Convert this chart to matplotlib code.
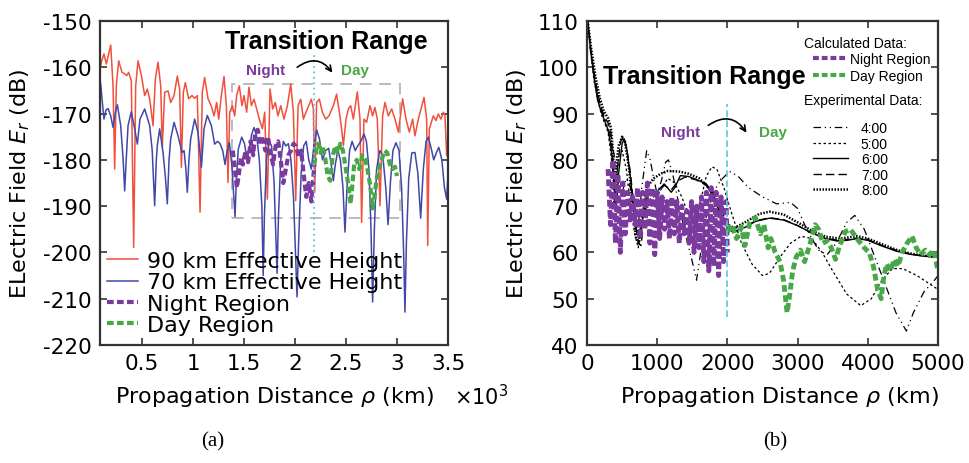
import matplotlib
matplotlib.use("Agg")
import matplotlib.pyplot as plt
from matplotlib.patches import FancyArrowPatch, Rectangle
from matplotlib.ticker import FuncFormatter
from matplotlib.lines import Line2D

plt.rcParams['font.family'] = ['DejaVu Sans']
plt.rcParams['axes.unicode_minus'] = False
plt.rcParams['mathtext.fontset'] = 'dejavusans'

# ---------------- Panel (a) data ----------------
red_km = [90, 101, 127, 150, 193, 216, 232, 248, 271, 304, 330, 350, 369, 395, 418, 438, 461, 494, 526, 552,
          575, 608, 631, 657, 683, 699, 722, 755, 781, 814, 846, 869, 886, 905, 925, 957, 990, 1016, 1042, 1069,
          1091, 1114, 1147, 1180, 1206, 1232, 1252, 1278, 1304, 1327, 1343, 1360, 1386, 1409, 1428, 1454, 1480,
          1500, 1526, 1549, 1572, 1598, 1624, 1650, 1680, 1703, 1729, 1755, 1781, 1807, 1833, 1860, 1892, 1925,
          1958, 1984, 2007, 2030, 2056, 2082, 2108, 2134, 2160, 2180, 2193, 2212, 2239, 2268, 2301, 2333, 2376,
          2408, 2435, 2457, 2474, 2500, 2523, 2546, 2572, 2611, 2637, 2653, 2676, 2702, 2735, 2761, 2784, 2807,
          2833, 2859, 2882, 2915, 2948, 2980, 3013, 3055, 3088, 3121, 3153, 3176, 3209, 3265, 3291, 3301, 3317,
          3356, 3382, 3405, 3431, 3454, 3470, 3487, 3503]
red_db = [-160.5, -158.9, -157.1, -159.3, -155.2, -164, -182, -164, -158.6, -161.1, -161.4, -161.8, -161.1, -162.9,
          -198.9, -164, -158.6, -161.8, -166.1, -164.7, -166.8, -172.6, -162.5, -158.9, -164, -177.3, -165.4,
          -165.1, -167.6, -166.1, -161.9, -164.7, -181.6, -165.4, -163.3, -166.8, -166.1, -166.7, -166.1, -191.3,
          -165.4, -162.2, -166.8, -168.4, -170.5, -167.6, -171.2, -166.1, -162.0, -168.3, -184.9, -169.7, -168.3,
          -170.5, -166.1, -164.0, -168.3, -166.1, -169.7, -164.3, -168.3, -166.9, -169.0, -171.2, -173.3, -169.7,
          -188.5, -164.7, -169.0, -167.6, -170.5, -168.3, -171.2, -168.3, -163.6, -169.7, -188.8, -168.3, -166.9,
          -171.2, -169.7, -168.3, -166.9, -169.0, -187.0, -167.6, -166.9, -169.7, -171.2, -170.5, -168.3, -165.8,
          -169.7, -173.3, -176.9, -171.2, -169.0, -168.3, -171.2, -165.3, -171.2, -193.5, -171.2, -171.9, -168.3,
          -170.5, -168.7, -171.2, -189.9, -170.5, -167.6, -170.5, -169.0, -171.2, -174.0, -166.8, -171.2, -174.0,
          -171.2, -174.8, -171.2, -166.5, -171.2, -198.5, -173.3, -170.5, -171.5, -170.1, -171.2, -169.7, -170.5,
          -179.1, -173.3]

blue_km = [90, 95, 114, 127, 147, 167, 193, 216, 239, 258, 291, 315, 330, 345, 363, 395, 428, 454, 480, 526, 575,
           600, 624, 640, 650, 673, 706, 730, 748, 765, 781, 814, 853, 892, 912, 930, 944, 960, 977, 1016, 1049,
           1082, 1108, 1140, 1180, 1212, 1240, 1265, 1291, 1314, 1335, 1356, 1380, 1400, 1412, 1425, 1444, 1477,
           1505, 1530, 1550, 1575, 1598, 1625, 1650, 1675, 1688, 1700, 1720, 1745, 1770, 1795, 1810, 1824, 1838,
           1860, 1886, 1910, 1935, 1960, 1985, 2005, 2020, 2035, 2060, 2085, 2110, 2135, 2160, 2185, 2212, 2240,
           2270, 2300, 2330, 2355, 2376, 2395, 2420, 2445, 2470, 2490, 2510, 2535, 2560, 2590, 2615, 2645, 2676,
           2700, 2725, 2745, 2761, 2778, 2800, 2830, 2860, 2890, 2912, 2935, 2960, 2990, 3020, 3045, 3065, 3078,
           3092, 3115, 3145, 3176, 3205, 3232, 3258, 3285, 3307, 3335, 3360, 3385, 3410, 3440, 3465, 3487, 3500]
blue_db = [-163, -163.6, -168.3, -171.2, -169.2, -168.9, -170.5, -173, -169.7, -168.1, -172.6, -180, -186.7, -180,
           -172.6, -169.6, -173.3, -176.6, -171.2, -169, -172.6, -178, -189.9, -180, -176.9, -173.3, -178.4, -184,
           -189.5, -180, -175.5, -171.9, -174.8, -178.4, -178, -182, -187, -180, -175.5, -171.2, -174.1, -181.6,
           -173.3, -170.4, -172.6, -176.6, -176.0, -176.5, -178, -181, -178, -176.2, -181, -188, -192.3, -184,
           -177.7, -175.1, -176.5, -180, -178, -174.5, -173, -175, -180, -190, -205, -192, -180, -176, -177, -185,
           -195, -204.5, -192, -180, -176, -177, -176.5, -180, -188, -200, -209.6, -198, -183, -177, -176, -180,
           -182, -177, -173.5, -175.5, -180, -178, -177.5, -181, -184.5, -181, -178, -180, -186, -195.6, -186,
           -178, -176, -178, -177, -176, -174.4, -176, -182, -195, -210.7, -195, -182, -178, -179, -186, -194,
           -185, -178, -176.3, -178, -186, -200, -212.9, -198, -184, -178.5, -178.4, -183, -192.6, -182, -176,
           -175.1, -177.5, -180, -178.5, -177.3, -180, -186, -188.5, -183]

nightA_km = [1390, 1410, 1430, 1450, 1470, 1490, 1515, 1540, 1565, 1590, 1610, 1635, 1660, 1685, 1710, 1735, 1760,
             1785, 1810, 1835, 1860, 1885, 1910, 1935, 1960, 1985, 2010, 2035, 2060, 2085, 2110, 2135, 2160, 2190]
nightA_db = [-178, -182, -186, -183, -179.5, -181, -178, -180.5, -176, -179, -174, -173.5, -176.5, -175.5, -178,
             -175, -178.5, -181, -177, -176, -180, -185, -182, -179, -178, -176.5, -177, -179.5, -178, -183, -188,
             -185, -189, -181]
dayA_km = [2190, 2210, 2230, 2250, 2270, 2295, 2320, 2345, 2370, 2395, 2420, 2445, 2470, 2495, 2520, 2545, 2560,
           2580, 2605, 2630, 2660, 2690, 2715, 2740, 2760, 2775, 2795, 2820, 2850, 2880, 2905, 2930, 2955, 2980, 3000]
dayA_db = [-181, -177.5, -176.5, -178.5, -177, -179.5, -183.5, -184.5, -179, -177, -178.5, -176.5, -178, -181.5,
           -185, -189.5, -186, -181, -180, -182, -179, -180, -182.5, -186, -190.5, -189, -185, -182, -180, -178,
           -178.5, -181, -182, -181.5, -183.5]

boxA_km = [1380, 3030]
boxA_db = [-192.6, -163.6]
splitA_km = 2190
splitA_db = [-200, -157]

xticksA = [500, 1000, 1500, 2000, 2500, 3000, 3500]
yticksA = [-220, -210, -200, -190, -180, -170, -160, -150]

# ---------------- Panel (b) data ----------------
t4_km = [10, 60, 120, 180, 240, 300, 350, 400, 450, 500, 560, 620, 680, 720, 780, 850, 900, 950, 1000, 1060, 1120,
         1160, 1220, 1300, 1400, 1500, 1560, 1620, 1700, 1800, 1900, 2030, 2150, 2300, 2500, 2700, 2900, 3000,
         3100, 3200, 3300, 3420, 3550, 3700, 3815, 3950, 4100, 4250, 4400, 4550, 4650, 4800, 4950, 5000]
t4_db = [109, 102, 96, 92, 89.5, 87, 84, 80, 75, 73, 76, 74, 66, 64, 74, 82, 80, 76, 72.5, 75.5, 79.5, 80, 77, 71,
         64, 58, 54, 60, 68, 73, 75.5, 77.5, 76.5, 74, 72, 70.5, 70.8, 69.5, 66, 63, 60.5, 59.5, 62, 66.5, 68, 65,
         59, 53, 47, 43, 47, 51.5, 54, 55]
t5_km = [10, 100, 200, 300, 350, 400, 450, 500, 560, 620, 680, 730, 780, 850, 950, 1050, 1150, 1250, 1350, 1450,
         1520, 1600, 1700, 1780, 1850, 1950, 2050, 2200, 2350, 2500, 2600, 2750, 2900, 3050, 3200, 3350, 3500,
         3700, 3900, 4050, 4200, 4350, 4500, 4700, 4850, 5000]
t5_db = [110, 97, 90, 86, 80, 73, 80, 82, 78, 70, 64, 61, 66, 71, 72, 73.5, 76, 75, 72, 68, 66, 70, 76.5, 78.5, 78,
         74, 69, 62, 57.5, 55, 55.5, 59, 62, 63.5, 63, 60, 56, 51, 48.5, 50, 54, 56.5, 56.5, 55, 53.5, 52]
t6_km = [10, 50, 100, 150, 200, 250, 300, 330, 360, 390, 420, 450, 500, 530, 570, 620, 660, 700, 740, 780, 830,
         880, 930, 1000, 1100, 1200, 1250, 1330, 1450, 1550, 1700, 1800, 1900, 2000, 2080, 2200, 2400, 2600, 2800,
         3000, 3200, 3400, 3550, 3700, 3850, 4000, 4200, 4400, 4600, 4800, 5000]
t6_db = [110, 104, 98, 93, 90.5, 88.5, 86.5, 84, 80, 74, 70, 77, 83.5, 84.5, 82, 76, 70, 65, 63, 66, 71, 73.3,
         72.8, 73.2, 74.8, 73, 74, 76.6, 76.4, 75.8, 74.8, 72.5, 68.5, 65.5, 64.3, 65, 66.7, 67.4, 67, 65.8, 64.2,
         63, 62.5, 62.6, 63, 62.6, 61.4, 60.3, 59.6, 59.2, 59]
t7_km = [10, 60, 120, 180, 240, 300, 340, 370, 400, 430, 480, 520, 560, 620, 680, 730, 770, 820, 880, 950, 1000,
         1100, 1200, 1300, 1400, 1550, 1700, 1800, 1900, 2000, 2080, 2200, 2400, 2600, 2800, 3000, 3200, 3400,
         3600, 3850, 4000, 4200, 4400, 4600, 4800, 5000]
t7_db = [110, 103, 97, 92.5, 89.5, 88, 86, 80, 70, 78, 84, 85, 83, 77, 68, 62, 61.5, 68, 72.5, 73, 72.8, 74.5,
         73.5, 75.5, 76.3, 75.7, 74.5, 72, 68.2, 65.2, 64.4, 65.2, 66.8, 67.5, 67.1, 65.8, 64.2, 63, 62.6, 63.1,
         62.8, 61.5, 60.5, 59.7, 59.2, 59]
t8_km = [10, 60, 120, 180, 240, 300, 340, 370, 390, 410, 450, 500, 540, 600, 650, 700, 740, 790, 850, 950, 1050,
         1150, 1300, 1450, 1600, 1700, 1800, 1900, 2000, 2100, 2250, 2450, 2600, 2800, 3000, 3200, 3400, 3600,
         3850, 4000, 4200, 4400, 4600, 4800, 5000]
t8_db = [110, 104, 98, 93.5, 90.5, 89, 87, 82, 70, 78, 83, 85, 84, 78, 70, 63, 62, 68, 74, 76, 77, 77.6, 77.5, 77,
         76, 74.5, 72.5, 69, 66, 65.3, 66.5, 68.3, 68.8, 68.2, 66.5, 64.7, 63.4, 63, 63.5, 63, 61.8, 60.6, 59.8,
         59.3, 59]

nightB_km = [300, 335, 370, 405, 440, 475, 510, 545, 580, 615, 650, 685, 720, 755, 790, 825, 860, 895, 930, 965,
             1000, 1035, 1070, 1105, 1140, 1175, 1210, 1245, 1280, 1315, 1350, 1385, 1420, 1455, 1490, 1525, 1560,
             1595, 1630, 1665, 1700, 1735, 1770, 1805, 1840, 1875, 1910, 1945, 1980, 2000]
nightB_db = [78, 66, 80, 62, 77, 60, 75, 64, 73, 67, 72, 66, 74, 63, 73, 65, 75, 62, 74, 59.5, 73, 63, 72, 65, 71,
             63, 72, 64, 71, 62, 70, 64, 69, 62, 71, 60, 70, 61, 72, 58, 73, 56, 74, 57, 73, 55, 72, 58, 71, 60]
dayB_km = [2000, 2060, 2130, 2200, 2250, 2320, 2400, 2470, 2520, 2580, 2620, 2680, 2750, 2800, 2850, 2880, 2930,
           2980, 3040, 3100, 3180, 3250, 3300, 3360, 3420, 3480, 3540, 3600, 3680, 3750, 3800, 3870, 3950, 4020,
           4080, 4140, 4190, 4230, 4270, 4320, 4380, 4430, 4490, 4560, 4630, 4690, 4750, 4820, 4880, 4940, 5000]
dayB_db = [64.5, 66, 63, 65.5, 61.5, 66.5, 67.5, 64, 66, 61, 63, 60, 58, 54, 47, 50, 56, 59, 60.5, 58, 62, 66, 65,
           62, 62.5, 61, 58.5, 61.5, 64.5, 65, 64, 62.5, 61, 60, 57, 52, 50, 55, 57.5, 56, 58.5, 57, 60, 62, 63.5,
           61, 59.5, 60.5, 59.5, 60.5, 56]
splitB_km = 2000
splitB_db = [46, 92]
xticksB = [0, 1000, 2000, 3000, 4000, 5000]
yticksB = [40, 50, 60, 70, 80, 90, 100, 110]

RED = '#F0503C'
BLUE = '#4048A8'
PURPLE = '#7B3A9E'
GREEN = '#48A848'
CYAN = '#5CC4E6'
FRAME = '#333333'

W, H = 969, 464
fig = plt.figure(figsize=(W / 100, H / 100), dpi=100)


def fx(px):
    return px / W


def fy(py):
    return 1 - py / H


ax1 = fig.add_axes([fx(100), fy(346), 348 / W, 324 / H])
ax2 = fig.add_axes([fx(587), fy(346), 351 / W, 324 / H])

for ax in (ax1, ax2):
    for s in ax.spines.values():
        s.set_linewidth(1.6)
        s.set_color(FRAME)
    ax.tick_params(direction='in', length=5, width=1.2, top=True, right=True,
                   labelsize=15.5, color=FRAME, pad=6)

# ---- panel (a)
ax1.plot(red_km, red_db, color=RED, lw=1.1, label='90 km Effective Height')
ax1.plot(blue_km, blue_db, color=BLUE, lw=1.1, label='70 km Effective Height')
ax1.plot(nightA_km, nightA_db, color=PURPLE, lw=3, dashes=(1.6, 0.8), label='Night Region')
ax1.plot(dayA_km, dayA_db, color=GREEN, lw=3, dashes=(1.6, 0.8), label='Day Region')
ax1.add_patch(Rectangle((boxA_km[0], boxA_db[0]), boxA_km[1] - boxA_km[0], boxA_db[1] - boxA_db[0],
                        fill=False, ec='#BBBBBB', lw=1.4, ls=(0, (6, 4)), zorder=1))
ax1.plot([splitA_km, splitA_km], splitA_db, color=CYAN, lw=1.3, ls=(0, (1, 2)))
ax1.set_xlim(88, 3500)
ax1.set_ylim(-220, -150)
ax1.set_xticks(xticksA)
ax1.set_yticks(yticksA)
ax1.xaxis.set_major_formatter(FuncFormatter(lambda v, p: f'{v / 1000:g}'))
ax1.set_xlabel(r'Propagation Distance $\rho$ (km)', fontsize=16)
ax1.set_ylabel(r'ELectric Field $E_r$ (dB)', fontsize=16)
ax1.xaxis.set_label_coords(0.5, -0.12)
ax1.yaxis.set_label_coords(-0.195, 0.5)
ax1.legend(loc='upper left', bbox_to_anchor=(fx(107), fy(252)), bbox_transform=fig.transFigure,
           frameon=False, fontsize=16, handlelength=1.4, handletextpad=0.4,
           labelspacing=0.06, borderpad=0, borderaxespad=0)

# ---- panel (b)
ax2.plot(t4_km, t4_db, color='k', lw=0.9, ls=(0, (6, 3, 1, 3, 1, 3)))
ax2.plot(t5_km, t5_db, color='k', lw=0.9, ls=(0, (2, 2)))
ax2.plot(t6_km, t6_db, color='k', lw=1.0, ls='-')
ax2.plot(t7_km, t7_db, color='k', lw=1.0, ls=(0, (6, 3)))
ax2.plot(t8_km, t8_db, color='k', lw=1.8, ls=(0, (0.6, 0.6)))
ax2.plot(nightB_km, nightB_db, color=PURPLE, lw=3.5, dashes=(1.4, 0.7))
ax2.plot(dayB_km, dayB_db, color=GREEN, lw=3.5, dashes=(1.4, 0.7))
ax2.plot([splitB_km, splitB_km], splitB_db, color=CYAN, lw=1.2, ls=(0, (4, 2)))
ax2.set_xlim(0, 5000)
ax2.set_ylim(40, 110)
ax2.set_xticks(xticksB)
ax2.set_yticks(yticksB)
ax2.set_xlabel(r'Propagation Distance $\rho$ (km)', fontsize=16)
ax2.set_ylabel(r'ELectric Field $E_r$ (dB)', fontsize=16)
ax2.xaxis.set_label_coords(0.547, -0.12)
ax2.yaxis.set_label_coords(-0.165, 0.5)

calc_handles = [Line2D([], [], color=PURPLE, lw=3, dashes=(1.4, 0.7)),
                Line2D([], [], color=GREEN, lw=3, dashes=(1.4, 0.7))]
legB1 = ax2.legend(calc_handles, ['Night Region', 'Day Region'], loc='upper left',
                   bbox_to_anchor=(fx(813), fy(53)), bbox_transform=fig.transFigure,
                   frameon=False, prop={'family': 'Liberation Sans', 'size': 10},
                   handlelength=2.5, handletextpad=0.2, labelspacing=0.18, borderpad=0, borderaxespad=0)
ax2.add_artist(legB1)
exp_handles = [Line2D([], [], color='k', lw=0.9, ls=(0, (6, 3, 1, 3, 1, 3))),
               Line2D([], [], color='k', lw=0.9, ls=(0, (2, 2))),
               Line2D([], [], color='k', lw=1.0, ls='-'),
               Line2D([], [], color='k', lw=1.0, ls=(0, (6, 3))),
               Line2D([], [], color='k', lw=1.8, ls=(0, (0.6, 0.6)))]
ax2.legend(exp_handles, ['4:00', '5:00', '6:00', '7:00', '8:00'], loc='upper left',
           bbox_to_anchor=(fx(813), fy(122)), bbox_transform=fig.transFigure,
           frameon=False, prop={'family': 'Liberation Sans', 'size': 10},
           handlelength=2.5, handletextpad=0.95, labelspacing=0.11, borderpad=0, borderaxespad=0)

# ---- annotations
sans = 'Liberation Sans'
fig.text(fx(326), fy(42), 'Transition Range', ha='center', va='center', fontsize=18, fontweight='bold', family=sans)
fig.text(fx(704), fy(77), 'Transition Range', ha='center', va='center', fontsize=18, fontweight='bold', family=sans)
fig.text(fx(266), fy(71), 'Night', ha='center', va='center', fontsize=11, fontweight='bold', color=PURPLE, family=sans)
fig.text(fx(355), fy(71), 'Day', ha='center', va='center', fontsize=11, fontweight='bold', color=GREEN, family=sans)
fig.text(fx(681), fy(133), 'Night', ha='center', va='center', fontsize=11, fontweight='bold', color=PURPLE, family=sans)
fig.text(fx(773), fy(133), 'Day', ha='center', va='center', fontsize=11, fontweight='bold', color=GREEN, family=sans)
for (x0, y0, x1, y1) in [(295, 70, 334, 76), (706, 128, 748, 136)]:
    fig.add_artist(FancyArrowPatch((fx(x0), fy(y0)), (fx(x1), fy(y1)), transform=fig.transFigure,
                                   connectionstyle='arc3,rad=-0.55', arrowstyle='->', mutation_scale=10,
                                   lw=1.2, color='k'))
fig.text(fx(804), fy(44), 'Calculated Data:', ha='left', va='center', fontsize=10, family=sans)
fig.text(fx(804), fy(101), 'Experimental Data:', ha='left', va='center', fontsize=10, family=sans)
fig.text(fx(454), fy(397), r'$\times$10$^3$', ha='left', va='center', fontsize=15)
fig.text(fx(213), fy(442), '(a)', ha='center', va='center', fontsize=15, family='Liberation Serif')
fig.text(fx(775), fy(442), '(b)', ha='center', va='center', fontsize=15, family='Liberation Serif')

fig.savefig('out.png', dpi=100)
